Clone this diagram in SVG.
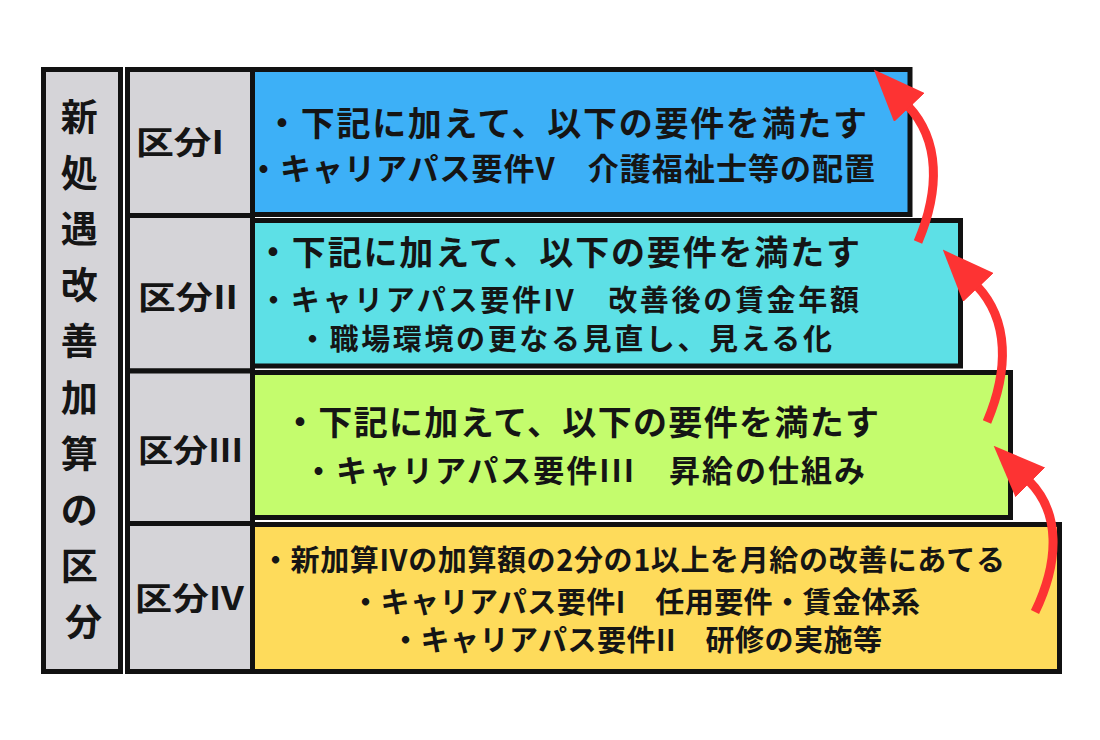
<svg xmlns="http://www.w3.org/2000/svg" width="1100" height="740" viewBox="0 0 1100 740">
  <defs>
    <style>
      .box { stroke: #111; stroke-width: 5; }
      .gray { fill: #d5d4d8; }
      .t { font-family: "Noto Sans CJK JP", "Noto Sans", sans-serif; font-weight: 700; fill: #151515; }
      .arrow { fill: none; stroke: #fd3333; stroke-width: 9; stroke-linecap: butt; }
    </style>
    <marker id="head" markerUnits="userSpaceOnUse" viewBox="0 0 52 42" markerWidth="52" markerHeight="42" refX="2" refY="21" orient="auto">
      <path d="M0,0 L52,21 L0,42 Z" fill="#fd3333"/>
    </marker>
  </defs>
  <rect width="1100" height="740" fill="#ffffff"/>

  <g id="title-column">
    <rect class="box gray" x="43.5" y="69.5" width="77" height="602"/>
    <text class="t" font-size="37" text-anchor="middle">
      <tspan x="83.5" y="131">新</tspan>
      <tspan x="83.5" y="187">処</tspan>
      <tspan x="83.5" y="243">遇</tspan>
      <tspan x="83.5" y="299">改</tspan>
      <tspan x="83.5" y="355">善</tspan>
      <tspan x="83.5" y="412">加</tspan>
      <tspan x="83.5" y="468">算</tspan>
      <tspan x="83.5" y="524">の</tspan>
      <tspan x="83.5" y="580">区</tspan>
      <tspan x="83.5" y="636">分</tspan>
    </text>
  </g>

  <g id="tier-1">
    <rect class="box gray" x="127.5" y="69.5" width="125" height="146"/>
    <rect class="box" fill="#3db0f7" x="252.5" y="69.5" width="657.5" height="145"/>
    <text class="t" font-size="32" x="136" y="154" textLength="88" lengthAdjust="spacingAndGlyphs">区分I</text>
    <text class="t" font-size="34" x="265" y="136" textLength="602" lengthAdjust="spacing">・下記に加えて、以下の要件を満たす</text>
    <text class="t" font-size="31" x="248" y="180" textLength="627" lengthAdjust="spacing">・キャリアパス要件V　介護福祉士等の配置</text>
  </g>

  <g id="tier-2">
    <rect class="box gray" x="127.5" y="215.5" width="125" height="155.5"/>
    <rect class="box" fill="#5de0e6" x="252.5" y="220.5" width="708" height="145.5"/>
    <text class="t" font-size="32" x="138" y="309" textLength="100" lengthAdjust="spacingAndGlyphs">区分II</text>
    <text class="t" font-size="34" x="256" y="265" textLength="604" lengthAdjust="spacing">・下記に加えて、以下の要件を満たす</text>
    <text class="t" font-size="29" x="259" y="311" textLength="600" lengthAdjust="spacing">・キャリアパス要件IV　改善後の賃金年額</text>
    <text class="t" font-size="29" x="298" y="350" textLength="534" lengthAdjust="spacing">・職場環境の更なる見直し、見える化</text>
  </g>

  <g id="tier-3">
    <rect class="box gray" x="127.5" y="371" width="125" height="152.5"/>
    <rect class="box" fill="#c4fc6d" x="252.5" y="372.5" width="758" height="145"/>
    <text class="t" font-size="32" x="138" y="462" textLength="105" lengthAdjust="spacingAndGlyphs">区分III</text>
    <text class="t" font-size="34" x="283" y="435" textLength="596" lengthAdjust="spacing">・下記に加えて、以下の要件を満たす</text>
    <text class="t" font-size="31" x="303" y="482" textLength="562" lengthAdjust="spacing">・キャリアパス要件III　昇給の仕組み</text>
  </g>

  <g id="tier-4">
    <rect class="box gray" x="127.5" y="523.5" width="125" height="148"/>
    <rect class="box" fill="#fedb5b" x="252.5" y="524.5" width="807" height="147"/>
    <text class="t" font-size="32" x="135" y="610" textLength="109" lengthAdjust="spacingAndGlyphs">区分IV</text>
    <text class="t" font-size="29" x="261" y="571" textLength="744" lengthAdjust="spacing">・新加算IVの加算額の2分の1以上を月給の改善にあてる</text>
    <text class="t" font-size="29" x="351" y="613" textLength="569" lengthAdjust="spacing">・キャリアパス要件I　任用要件・賃金体系</text>
    <text class="t" font-size="29" x="391" y="651" textLength="491" lengthAdjust="spacing">・キャリアパス要件II　研修の実施等</text>
  </g>

  <g id="connectors">
    <path class="arrow" d="M918,242 C940,190 940,140 908,106" marker-end="url(#head)"/>
    <path class="arrow" d="M987,422 C1009,370 1009,320 977,286" marker-end="url(#head)"/>
    <path class="arrow" d="M1035,612 C1060,560 1060,512 1029,481" marker-end="url(#head)"/>
  </g>
</svg>
